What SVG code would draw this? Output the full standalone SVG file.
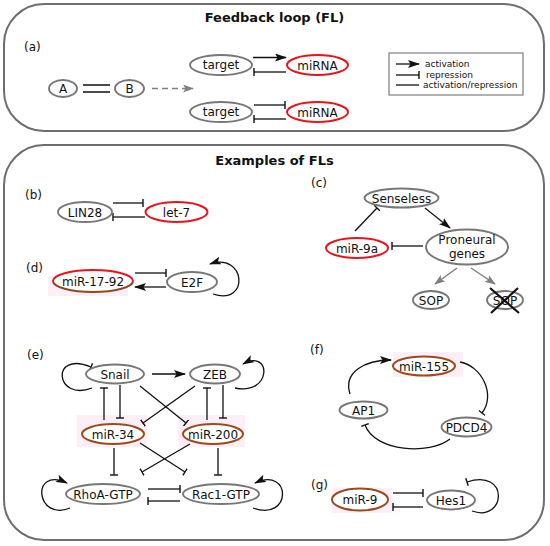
<svg xmlns="http://www.w3.org/2000/svg" width="550" height="546" viewBox="0 0 550 546">
<style>
.box{fill:#fff;stroke:#6e6e6e;stroke-width:2}
.n{fill:#fff;stroke:#777;stroke-width:1.9}
.r{fill:#fff;stroke:#e8141b;stroke-width:2}
.b{fill:#fff;stroke:#9a4a1c;stroke-width:2}
.hl{fill:#fdeef7;stroke:none}
text{font-family:"DejaVu Sans",sans-serif;font-size:12px;fill:#111}
.t{text-anchor:middle}
.h{font-weight:bold;font-size:13px;text-anchor:middle}
.lg{font-size:9px}
.e{fill:none;stroke:#111;stroke-width:1.3}
.ea{fill:none;stroke:#111;stroke-width:1.3;marker-end:url(#act)}
.er{fill:none;stroke:#111;stroke-width:1.3;marker-end:url(#rep)}
.eg{fill:none;stroke:#808080;stroke-width:1.5;marker-end:url(#actg)}
</style>
<defs>
<marker id="act" viewBox="0 0 12 8" refX="11" refY="4" markerWidth="12" markerHeight="8" markerUnits="userSpaceOnUse" orient="auto"><path d="M0,0 L12,4 L0,8 L2.5,4 z" fill="#111"/></marker>
<marker id="actg" viewBox="0 0 11 8" refX="10" refY="4" markerWidth="11" markerHeight="8" markerUnits="userSpaceOnUse" orient="auto"><path d="M0,0 L11,4 L0,8 L2.5,4 z" fill="#808080"/></marker>
<marker id="rep" viewBox="0 0 2 8" refX="1" refY="4" markerWidth="2" markerHeight="8" markerUnits="userSpaceOnUse" orient="auto"><path d="M1,0 L1,8" stroke="#111" stroke-width="1.4"/></marker>
<linearGradient id="rb" x1="0" y1="0" x2="0" y2="1"><stop offset="0.35" stop-color="#e8141b"/><stop offset="0.75" stop-color="#8a4a1c"/></linearGradient>
</defs>

<rect class="box" x="4" y="4" width="540" height="127" rx="40"/>
<rect class="box" x="4" y="145" width="540" height="395" rx="40"/>
<text class="h" x="274.5" y="22">Feedback loop (FL)</text>
<text class="h" x="274.5" y="165">Examples of FLs</text>

<text x="24" y="51">(a)</text>
<text x="25" y="199">(b)</text>
<text x="311" y="187">(c)</text>
<text x="26" y="272">(d)</text>
<text x="27" y="359">(e)</text>
<text x="310" y="354">(f)</text>
<text x="311" y="489">(g)</text>

<g id="legend">
<rect x="389" y="53" width="134" height="42" fill="#fff" stroke="#888" stroke-width="1.3"/>
<path class="ea" d="M396,64 L419,64"/>
<path class="er" d="M396,75 L419,75"/>
<path class="e" d="M396,85 L419,85"/>
<text class="lg" x="425" y="67">activation</text>
<text class="lg" x="426" y="78">repression</text>
<text class="lg" x="423" y="88">activation/repression</text>
</g>

<g id="highlights">
<rect class="hl" x="48" y="276" width="80" height="20"/>
<rect class="hl" x="77" y="415" width="70" height="32"/>
<rect class="hl" x="178" y="415" width="67" height="32"/>
<rect class="hl" x="393" y="352" width="70" height="25"/>
<rect class="hl" x="332" y="488" width="60" height="25"/>
</g>

<g id="connectors">
<path class="e" d="M83,85 L110,85 M83,92 L110,92"/>
<path class="eg" d="M152,88.5 L193,88.5" stroke-dasharray="6,4"/>
<path class="ea" d="M253,57.5 L286,57.5"/>
<path class="er" d="M286,72 L254,72"/>
<path class="er" d="M254,105 L285,105"/>
<path class="er" d="M286,119 L254,119"/>

<path class="er" d="M113,203 L143,203"/>
<path class="er" d="M145,217 L113,217"/>

<path class="er" d="M135,273 L166,273"/>
<path class="ea" d="M166,287 L135,287"/>
<path class="ea" d="M213,294 C250,306 246,252 210,264"/>

<path class="er" d="M355,231 L377,208"/>
<path class="ea" d="M425,208 L450,228"/>
<path class="er" d="M423,246 L392,246"/>
<path class="eg" d="M457,268 L435,284"/>
<path class="eg" d="M471,268 L495,284"/>

<path class="ea" d="M152,374 L185,374"/>
<path class="er" d="M92,388 C55,402 50,350 91,367"/>
<path class="ea" d="M235,388 C272,396 272,348 243,364"/>
<path class="er" d="M104,420 L104,388"/>
<path class="er" d="M120,385 L120,418"/>
<path class="er" d="M207,420 L207,388"/>
<path class="er" d="M223,385 L223,418"/>
<path class="er" d="M140,386 L186,423"/>
<path class="er" d="M195,386 L143,423"/>
<path class="er" d="M114,448 L114,475"/>
<path class="er" d="M218,448 L218,475"/>
<path class="er" d="M140,443 L185,472"/>
<path class="er" d="M190,444 L142,472"/>
<path class="er" d="M148,489 L180,489"/>
<path class="er" d="M180,501 L148,501"/>
<path class="ea" d="M70,508 C36,522 30,466 67,483"/>
<path class="ea" d="M253,508 C292,522 292,466 255,483"/>

<path class="ea" d="M350,394 C343,372 365,360 391,360"/>
<path class="er" d="M460,362 C482,366 496,395 482,413"/>
<path class="er" d="M450,439 C430,455 375,452 365,425"/>

<path class="er" d="M393,493 L423,493"/>
<path class="er" d="M423,507 L393,507"/>
<path class="er" d="M472,511 C506,523 510,468 467,482"/>
</g>

<g id="A"><ellipse class="n" cx="63" cy="88.5" rx="14" ry="8.5"/><text class="t" x="63" y="93">A</text></g>
<g id="B"><ellipse class="n" cx="129.5" cy="88.5" rx="14.5" ry="8.5"/><text class="t" x="129.5" y="93">B</text></g>
<g id="target1"><ellipse class="n" cx="221" cy="65" rx="31" ry="10"/><text class="t" x="221" y="69">target</text></g>
<g id="miRNA1"><ellipse class="r" cx="317.5" cy="65" rx="30.5" ry="10"/><text class="t" x="317.5" y="69.5">miRNA</text></g>
<g id="target2"><ellipse class="n" cx="221" cy="112" rx="31" ry="10"/><text class="t" x="221" y="116">target</text></g>
<g id="miRNA2"><ellipse class="r" cx="317.5" cy="112" rx="30.5" ry="10"/><text class="t" x="317.5" y="116.5">miRNA</text></g>

<g id="LIN28"><ellipse class="n" cx="85" cy="212" rx="27" ry="10"/><text class="t" x="85" y="216.5">LIN28</text></g>
<g id="let7"><ellipse class="r" cx="176.5" cy="212" rx="31" ry="10"/><text class="t" x="176.5" y="216.5">let-7</text></g>

<g id="miR17-92"><ellipse cx="93" cy="281" rx="40" ry="11" fill="#fff" stroke="url(#rb)" stroke-width="2"/><text class="t" x="93" y="285.5">miR-17-92</text></g>
<g id="E2F"><ellipse class="n" cx="192" cy="282" rx="25" ry="10"/><text class="t" x="192" y="286.5">E2F</text></g>

<g id="Senseless"><ellipse class="n" cx="401.5" cy="198" rx="37" ry="9.5"/><text class="t" x="401.5" y="202.5">Senseless</text></g>
<g id="miR-9a"><ellipse class="r" cx="357" cy="248" rx="31" ry="10"/><text class="t" x="357" y="252.5">miR-9a</text></g>
<g id="Proneural"><ellipse class="n" cx="467" cy="247" rx="41" ry="17.5"/><text class="t" x="467" y="244">Proneural</text><text class="t" x="467" y="258">genes</text></g>
<g id="SOP1"><ellipse class="n" cx="431" cy="300" rx="18" ry="9"/><text class="t" x="431" y="304.5">SOP</text></g>
<g id="SOP2"><ellipse class="n" cx="505" cy="300" rx="18" ry="9"/><text class="t" x="505" y="304.5">SOP</text><path d="M490,288 L519,313 M518,288 L491,313" stroke="#111" stroke-width="2.2" fill="none"/></g>

<g id="Snail"><ellipse class="n" cx="115" cy="374" rx="29" ry="9.5"/><text class="t" x="115" y="378.5">Snail</text></g>
<g id="ZEB"><ellipse class="n" cx="215" cy="374" rx="25" ry="9.5"/><text class="t" x="215" y="378.5">ZEB</text></g>
<g id="miR-34"><ellipse class="b" cx="113" cy="434" rx="31" ry="10"/><text class="t" x="113" y="438.5">miR-34</text></g>
<g id="miR-200"><ellipse class="b" cx="213" cy="434" rx="30" ry="10"/><text class="t" x="213" y="438.5">miR-200</text></g>
<g id="RhoA"><ellipse class="n" cx="103" cy="494" rx="37" ry="10"/><text class="t" x="103" y="498.5">RhoA-GTP</text></g>
<g id="Rac1"><ellipse class="n" cx="221" cy="494" rx="38" ry="10"/><text class="t" x="221" y="498.5">Rac1-GTP</text></g>

<g id="miR-155"><ellipse class="b" cx="424" cy="366" rx="31" ry="9.5"/><text class="t" x="424" y="370.5">miR-155</text></g>
<g id="AP1"><ellipse class="n" cx="363.5" cy="410" rx="24" ry="8.5"/><text class="t" x="363.5" y="414.5">AP1</text></g>
<g id="PDCD4"><ellipse class="n" cx="466.5" cy="427" rx="25" ry="9.5"/><text class="t" x="466.5" y="431.5">PDCD4</text></g>

<g id="miR-9"><ellipse class="b" cx="360" cy="499.5" rx="28" ry="11"/><text class="t" x="360" y="504">miR-9</text></g>
<g id="Hes1"><ellipse class="n" cx="451" cy="500" rx="24" ry="9.5"/><text class="t" x="451" y="504.5">Hes1</text></g>
</svg>
